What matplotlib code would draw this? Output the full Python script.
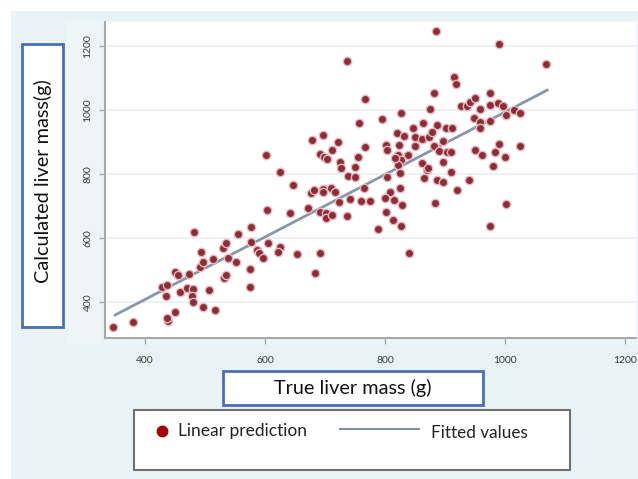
import matplotlib.pyplot as plt
from matplotlib.patches import Rectangle
from matplotlib.lines import Line2D

plt.rcParams['font.family'] = ['Lato', 'DejaVu Sans']

# points (true mass g, calculated mass g)
true_mass = [347, 380, 438, 437, 450, 497, 517, 435, 428, 437, 450, 455, 458, 470, 479, 478, 479, 473, 507, 493,
             481, 492, 497, 513, 529, 535, 538, 552, 532, 535, 555, 576, 576, 575, 575, 586, 589, 597, 604, 624,
             622, 653, 683, 692,
             602, 624, 647, 678, 697, 721, 692, 698, 703, 711, 725, 726, 754, 750, 738, 750, 757, 766, 737, 767,
             676, 681, 696, 697, 710, 717, 765, 742, 760, 775, 723, 603, 641, 671, 691, 702, 702, 711, 736, 788,
             802, 813, 826, 840, 975,
             885, 990, 1068, 914, 918, 881, 974, 875, 927, 936, 942, 950, 958, 975, 988, 997, 1001, 1015, 1024, 948,
             958, 958, 975, 826, 794, 847, 863, 819, 832, 886, 901, 912, 850, 861, 873, 878, 897, 802, 803, 823,
             850, 882, 890, 903, 910, 950, 961, 989, 983, 1025, 1000, 979, 896, 910, 822, 827, 822, 825, 817, 838,
             803, 861, 870, 864, 886, 897, 872, 919, 940, 825, 808, 800, 814, 828, 883, 1002]
calc_mass = [320, 338, 341, 350, 369, 384, 375, 419, 445, 453, 492, 484, 432, 443, 440, 417, 401, 488, 438, 555,
             617, 510, 526, 534, 568, 585, 536, 525, 474, 484, 613, 635, 588, 502, 445, 562, 552, 537, 585, 573,
             557, 549, 490, 554,
             859, 807, 764, 906, 921, 900, 862, 852, 846, 876, 838, 820, 852, 823, 792, 789, 960, 1035, 1152, 883,
             740, 750, 753, 742, 757, 745, 755, 722, 716, 716, 713, 688, 678, 695, 682, 677, 662, 672, 668, 627,
             682, 656, 638, 554, 638,
             1247, 1206, 1145, 1104, 1081, 1053, 1053, 1003, 1013, 1013, 1026, 1037, 1003, 1016, 1023, 1011, 983, 1000, 990, 974,
             961, 943, 965, 990, 971, 944, 958, 928, 920, 954, 945, 943, 917, 910, 917, 932, 903, 891, 875, 891,
             887, 886, 872, 868, 868, 875, 859, 894, 868, 888, 852, 825, 838, 807, 859, 844, 828, 802, 849, 859,
             790, 834, 813, 787, 781, 776, 818, 750, 781, 755, 745, 724, 719, 703, 708, 705]

fit_x = [350, 1070]
fit_y = [359, 1062]

ticks = [400, 600, 800, 1000, 1200]

W, H = 638, 479
fig = plt.figure(figsize=(W / 100, H / 100), dpi=100)


def frac(x0, y0, x1, y1):
    # pixel box -> figure fraction (left, bottom, width, height)
    return x0 / W, 1 - y1 / H, (x1 - x0) / W, (y1 - y0) / H


def add_box(x0, y0, x1, y1, **kw):
    l, b, w, h = frac(x0, y0, x1, y1)
    fig.patches.append(Rectangle((l, b), w, h, transform=fig.transFigure, **kw))


# background panels
add_box(11, 11, W, H, facecolor='#e9f3f5', edgecolor='none', zorder=0)
add_box(65, 20, W, 345, facecolor='#eef5f7', edgecolor='none', zorder=0)

ax = fig.add_axes(frac(105, 22, 636, 338))
ax.set_zorder(5)
ax.set_facecolor('white')
ax.plot(fit_x, fit_y, color='#8797a9', lw=2, zorder=2)
ax.scatter(true_mass, calc_mass, s=36, c='#8a2e39', edgecolors='#e6b9bd', linewidths=1.0, zorder=3)

ax.set_xlim(333, 1218)
ax.set_ylim(287, 1275)
ax.set_xticks(ticks)
ax.set_yticks(ticks)
for t in ticks:
    ax.axhline(t, color='#e8eff2', lw=1.2, zorder=1)
for s in ['top', 'right']:
    ax.spines[s].set_visible(False)
for s in ['left', 'bottom']:
    ax.spines[s].set_color('#a8a8a8')
    ax.spines[s].set_linewidth(1.5)
ax.tick_params(axis='both', colors='#a8a8a8', length=4, width=1, labelsize=7.5, labelcolor='#3a3a3a')
ax.tick_params(axis='x', pad=9)
ax.tick_params(axis='y', pad=5)
for lab in ax.get_yticklabels():
    lab.set_rotation(90)
    lab.set_va('center')

# axis title boxes
add_box(22, 44, 63, 327, facecolor='white', edgecolor='#4a6fb5', lw=2, zorder=1)
fig.text(42.5 / W, 1 - 181.5 / H, 'Calculated liver mass(g)', rotation=90, ha='center', va='center',
         fontsize=14.3, color='#111111', zorder=6)
add_box(223, 371, 483, 405, facecolor='white', edgecolor='#4a6fb5', lw=2, zorder=1)
fig.text(352.5 / W, 1 - 388 / H, 'True liver mass (g)', ha='center', va='center', fontsize=14.3,
         color='#111111', zorder=6)

# legend
add_box(134, 410, 570, 470, facecolor='white', edgecolor='#707070', lw=1.5, zorder=1)
fig.add_artist(Line2D([162 / W], [1 - 431 / H], marker='o', markersize=7.5, color='#a30000',
                      transform=fig.transFigure, zorder=6))
fig.text(178 / W, 1 - 431 / H, 'Linear prediction', ha='left', va='center', fontsize=12.5,
         color='#222222', zorder=6)
fig.add_artist(Line2D([340 / W, 419 / W], [1 - 429 / H, 1 - 429 / H], color='#7d90a8', lw=1.5,
                      transform=fig.transFigure, zorder=6))
fig.text(431 / W, 1 - 433 / H, 'Fitted values', ha='left', va='center', fontsize=12.3,
         color='#222222', zorder=6)

fig.savefig('out.png', dpi=100)
